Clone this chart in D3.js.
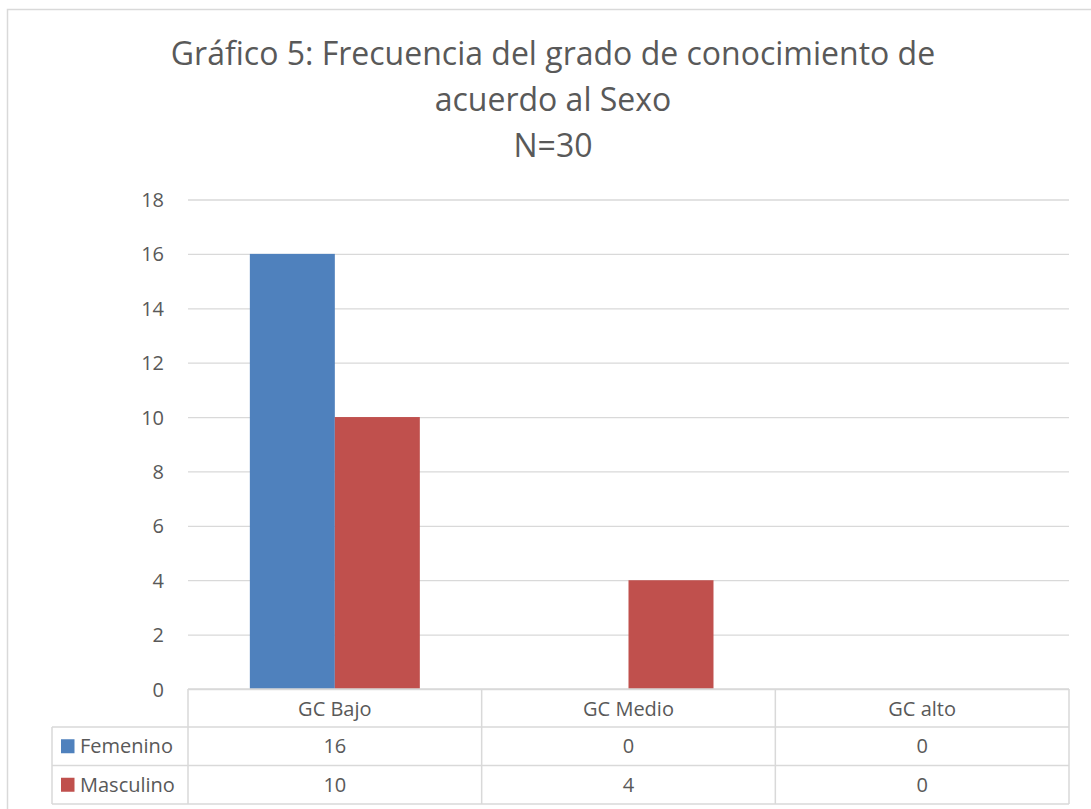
<!DOCTYPE html>
<html>
<head>
<meta charset="utf-8">
<script src="https://cdn.jsdelivr.net/npm/d3@7"></script>
<style>
  body { margin: 0; background: #fff; }
  svg text { font-family: "Open Sans", "Liberation Sans", sans-serif; fill: #595959; }
</style>
</head>
<body>
<div id="chart"></div>
<script>
const categories = ["GC Bajo", "GC Medio", "GC alto"];
const seriesNames = ["Femenino", "Masculino"];
const femenino = [16, 0, 0];
const masculino = [10, 4, 0];
const yTicks = [0, 2, 4, 6, 8, 10, 12, 14, 16, 18];
const titleLines = ["Gráfico 5: Frecuencia del grado de conocimiento de", "acuerdo al Sexo", "N=30"];
const colors = ["#4f81bd", "#c0504d"];

const W = 1091, H = 809;
const svg = d3.select("#chart").append("svg").attr("width", W).attr("height", H);

// outer chart border
svg.append("rect").attr("x", 7.5).attr("y", 9.5).attr("width", W + 10).attr("height", H + 10)
  .attr("fill", "none").attr("stroke", "#d9d9d9").attr("stroke-width", 1.5);

// title
svg.append("g").selectAll("text").data(titleLines).join("text")
  .attr("x", 553).attr("y", (d, i) => 65 + i * 46)
  .attr("text-anchor", "middle").attr("font-size", 32)
  .text(d => d);

const plot = { left: 188, right: 1069, top: 199.5, bottom: 689 };

const y = d3.scaleLinear().domain([0, 18]).range([plot.bottom, plot.top]);
const x0 = d3.scaleBand().domain(categories).range([plot.left, plot.right]);
const barW = x0.bandwidth() * 85 / 293.7;
const x1 = d3.scaleBand().domain(seriesNames)
  .range([x0.bandwidth() / 2 - barW, x0.bandwidth() / 2 + barW]).padding(0);

// gridlines + y labels
const yAxis = d3.axisLeft(y).tickValues(yTicks).tickSize(-(plot.right - plot.left)).tickFormat(d3.format("d"));
const gy = svg.append("g").attr("transform", `translate(${plot.left},0)`).call(yAxis);
gy.select(".domain").remove();
gy.attr("font-family", null).attr("font-size", 20);
gy.selectAll(".tick line").attr("stroke", "#d9d9d9").attr("stroke-width", 1.3);
gy.selectAll(".tick text").attr("x", -24).attr("dy", "0.35em")
  .style("font-size", "20px").style("fill", "#595959");

// bars
const series = [femenino, masculino];
const bars = [];
categories.forEach((c, i) => seriesNames.forEach((s, j) => bars.push({ c, s, v: series[j][i], j })));
svg.append("g").selectAll("rect").data(bars).join("rect")
  .attr("x", d => x0(d.c) + x1(d.s))
  .attr("width", x1.bandwidth())
  .attr("y", d => y(d.v))
  .attr("height", d => y(0) - y(d.v))
  .attr("fill", d => colors[d.j]);

// data table
const tbl = { left: 52, rows: [689, 727, 765.5, 804] };
const line = (x1_, y1_, x2_, y2_) => svg.append("line")
  .attr("x1", x1_).attr("y1", y1_).attr("x2", x2_).attr("y2", y2_)
  .attr("stroke", "#d9d9d9").attr("stroke-width", 1.5);

line(plot.left, tbl.rows[0], plot.right, tbl.rows[0]);
line(tbl.left, tbl.rows[1], plot.right, tbl.rows[1]);
line(tbl.left, tbl.rows[2], plot.right, tbl.rows[2]);
line(tbl.left, tbl.rows[3], plot.right, tbl.rows[3]);
line(tbl.left, tbl.rows[1], tbl.left, tbl.rows[3]);
categories.forEach(c => line(x0(c), tbl.rows[0], x0(c), tbl.rows[3]));
line(plot.right, tbl.rows[0], plot.right, tbl.rows[3]);

// category header
svg.append("g").selectAll("text").data(categories).join("text")
  .attr("x", d => x0(d) + x0.bandwidth() / 2).attr("y", 716)
  .attr("text-anchor", "middle").attr("font-size", 20).text(d => d);

// series rows
seriesNames.forEach((s, j) => {
  const yc = (tbl.rows[j + 1] + tbl.rows[j + 2]) / 2;
  svg.append("rect").attr("x", 61).attr("y", yc - 7).attr("width", 13.5).attr("height", 14).attr("fill", colors[j]);
  svg.append("text").attr("x", 80).attr("y", yc + 7).attr("font-size", 20).text(s);
  svg.append("g").selectAll("text").data(categories).join("text")
    .attr("x", d => x0(d) + x0.bandwidth() / 2).attr("y", yc + 7)
    .attr("text-anchor", "middle").attr("font-size", 20)
    .text((d, i) => series[j][i]);
});
</script>
</body>
</html>
